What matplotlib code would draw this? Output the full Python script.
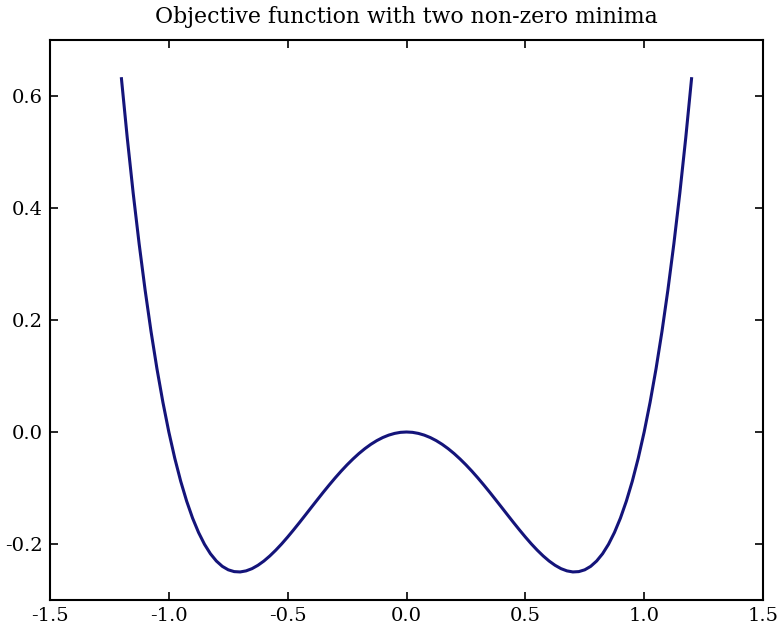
import matplotlib
matplotlib.use("Agg")
import matplotlib.pyplot as plt

x_vals = [-1.200, -1.175, -1.150, -1.125, -1.100, -1.075, -1.050, -1.025, -1.000, -0.975,
          -0.950, -0.925, -0.900, -0.875, -0.850, -0.825, -0.800, -0.775, -0.750, -0.725,
          -0.700, -0.675, -0.650, -0.625, -0.600, -0.575, -0.550, -0.525, -0.500, -0.475,
          -0.450, -0.425, -0.400, -0.375, -0.350, -0.325, -0.300, -0.275, -0.250, -0.225,
          -0.200, -0.175, -0.150, -0.125, -0.100, -0.075, -0.050, -0.025, 0.000,
          0.025, 0.050, 0.075, 0.100, 0.125, 0.150, 0.175, 0.200, 0.225, 0.250,
          0.275, 0.300, 0.325, 0.350, 0.375, 0.400, 0.425, 0.450, 0.475, 0.500,
          0.525, 0.550, 0.575, 0.600, 0.625, 0.650, 0.675, 0.700, 0.725, 0.750,
          0.775, 0.800, 0.825, 0.850, 0.875, 0.900, 0.925, 0.950, 0.975, 1.000,
          1.025, 1.050, 1.075, 1.100, 1.125, 1.150, 1.175, 1.200]
y_vals = [0.6336, 0.5255, 0.4265, 0.3362, 0.2541, 0.1798, 0.1130, 0.0532, 0.0000, -0.0469,
          -0.0880, -0.1235, -0.1539, -0.1794, -0.2005, -0.2174, -0.2304, -0.2399, -0.2461, -0.2493,
          -0.2499, -0.2480, -0.2440, -0.2380, -0.2304, -0.2213, -0.2110, -0.1997, -0.1875, -0.1747,
          -0.1615, -0.1480, -0.1344, -0.1209, -0.1075, -0.0945, -0.0819, -0.0699, -0.0586, -0.0481,
          -0.0384, -0.0297, -0.0220, -0.0154, -0.0099, -0.0056, -0.0025, -0.0006, 0.0000,
          -0.0006, -0.0025, -0.0056, -0.0099, -0.0154, -0.0220, -0.0297, -0.0384, -0.0481, -0.0586,
          -0.0699, -0.0819, -0.0945, -0.1075, -0.1209, -0.1344, -0.1480, -0.1615, -0.1747, -0.1875,
          -0.1997, -0.2110, -0.2213, -0.2304, -0.2380, -0.2440, -0.2480, -0.2499, -0.2493, -0.2461,
          -0.2399, -0.2304, -0.2174, -0.2005, -0.1794, -0.1539, -0.1235, -0.0880, -0.0469, 0.0000,
          0.0532, 0.1130, 0.1798, 0.2541, 0.3362, 0.4265, 0.5255, 0.6336]
x_ticks = [-1.5, -1.0, -0.5, 0.0, 0.5, 1.0, 1.5]
y_ticks = [-0.2, 0.0, 0.2, 0.4, 0.6]
title = "Objective function with two non-zero minima"

plt.rcParams['font.family'] = ['DejaVu Serif']
fig = plt.figure(figsize=(7.79, 6.28), dpi=100)
ax = fig.add_axes([50/779, 28/628, 713/779, 560/628])
ax.plot(x_vals, y_vals, color='#14147a', linewidth=2.2,
        solid_joinstyle='round', solid_capstyle='butt')
ax.set_xlim(-1.5, 1.5)
ax.set_ylim(-0.3, 0.7)
ax.set_xticks(x_ticks)
ax.set_yticks(y_ticks)
ax.set_xticklabels([f"{t:.1f}" for t in x_ticks])
ax.set_yticklabels([f"{t:.1f}" for t in y_ticks])
ax.tick_params(direction='in', length=6, width=1.2, top=True, right=True,
               labelsize=14, pad=5, colors='black')
for s in ax.spines.values():
    s.set_linewidth(1.5)
ax.set_title(title, fontsize=15.8, pad=12)
fig.savefig("out.png", dpi=100)
